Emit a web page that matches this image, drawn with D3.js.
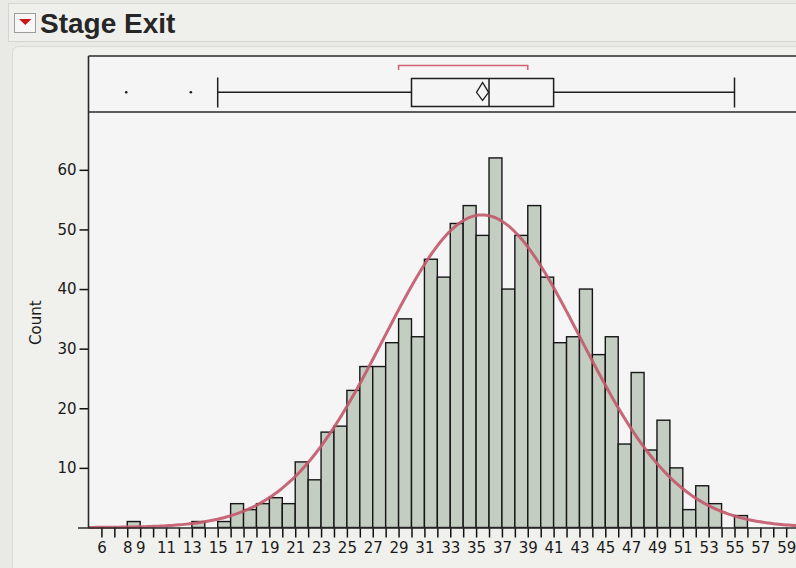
<!DOCTYPE html>
<html><head><meta charset="utf-8">
<script src="https://cdn.jsdelivr.net/npm/d3@7/dist/d3.min.js"></script>
<style>
html,body{margin:0;padding:0;background:#e9e9e5;overflow:hidden;}
svg{display:block;}
</style></head><body>
<svg id="chart" width="796" height="568"></svg>
<script>
// ---- data ----
const title = "Stage Exit";
const yLabel = "Count";
const binStarts = [5,6,7,8,9,10,11,12,13,14,15,16,17,18,19,20,21,22,23,24,25,26,27,28,29,30,31,32,33,34,35,36,37,38,39,40,41,42,43,44,45,46,47,48,49,50,51,52,53,54,55,56,57,58,59];
const counts    = [0,0,0,1,0,0,0,0,1,0,1,4,3,4,5,4,11,8,16,17,23,27,27,31,35,32,45,42,51,54,49,62,40,49,54,42,31,32,40,29,32,14,26,13,18,10,3,7,4,0,2,0,0,0,0];
const xTickValues = [6,7,8,9,10,11,12,13,14,15,16,17,18,19,20,21,22,23,24,25,26,27,28,29,30,31,32,33,34,35,36,37,38,39,40,41,42,43,44,45,46,47,48,49,50,51,52,53,54,55,56,57,58,59];
const xTickLabels = [6,8,9,11,13,15,17,19,21,23,25,27,29,31,33,35,37,39,41,43,45,47,49,51,53,55,57,59];
const yTickValues = [10,20,30,40,50,60];
// box plot summary
const quartiles = [30, 36, 41];          // Q1, median, Q3
const whiskers = [15, 55];
const outliers = [8, 13];
const meanCI = [35.03, 35.5, 35.97];     // lower, mean, upper
const shortestHalf = [29, 39];
// fitted normal
const fitMean = 35.47, fitSd = 7.6;

// ---- layout ----
const svg = d3.select('#chart');
const plotLeft = 88.5, plotTop = 56, boxBottom = 112, plotBottom = 527.5, plotRight = 799.1;
const x = d3.scaleLinear().domain([5, 60]).range([plotLeft, plotRight]);
const y = d3.scaleLinear().domain([0, 69.7]).range([plotBottom, boxBottom]);
const binW = 1;
const N = d3.sum(counts);

// header band
svg.append('rect').attr('x', 8.5).attr('y', 3.5).attr('width', 800).attr('height', 38)
  .attr('fill', '#efefeb').attr('stroke', '#d4d4d0');
// panel
svg.append('rect').attr('x', 12.5).attr('y', 46.5).attr('width', 800).attr('height', 540).attr('rx', 6)
  .attr('fill', '#f0f0ec').attr('stroke', '#d9d9d5');
// disclosure icon
svg.append('rect').attr('x', 14.5).attr('y', 13.5).attr('width', 21).attr('height', 19)
  .attr('fill', '#f7f7f7').attr('stroke', '#9c9c9c');
svg.append('path').attr('d', 'M19,19L31.5,19L25.25,25Z').attr('fill', '#c91616');
svg.append('text').attr('x', 40).attr('y', 33).text(title)
  .attr('font-family', '"Liberation Sans", Arial, sans-serif').attr('font-weight', 'bold')
  .attr('font-size', 28).attr('fill', '#262626');

// plot background
svg.append('rect').attr('x', plotLeft).attr('y', plotTop).attr('width', 720).attr('height', plotBottom - plotTop)
  .attr('fill', '#f5f5f5');

// bars
const bins = binStarts.map((s, i) => ({s, c: counts[i]})).filter(d => d.c > 0);
svg.append('g').selectAll('rect').data(bins).join('rect')
  .attr('x', d => x(d.s)).attr('width', d => x(d.s + binW) - x(d.s))
  .attr('y', d => y(d.c)).attr('height', d => y(0) - y(d.c))
  .attr('fill', '#c4cdc2').attr('stroke', '#161616').attr('stroke-width', 1.4);

// normal curve
const curveX = d3.range(5, 60.01, 0.2);
const dens = v => N * binW / (fitSd * Math.sqrt(2 * Math.PI)) * Math.exp(-((v - fitMean) ** 2) / (2 * fitSd * fitSd));
svg.append('path').datum(curveX)
  .attr('d', d3.line().x(v => x(v)).y(v => y(dens(v))))
  .attr('fill', 'none').attr('stroke', '#c35a6b').attr('stroke-width', 3).attr('stroke-opacity', 0.92);

// axes
const xAxis = svg.append('g').attr('transform', `translate(0,${plotBottom})`)
  .call(d3.axisBottom(x).tickValues(xTickValues).tickSize(10).tickSizeOuter(0).tickPadding(5)
    .tickFormat(d => xTickLabels.includes(d) ? d : ''));
xAxis.select('.domain').remove();
xAxis.selectAll('.tick line').attr('stroke', '#111').attr('stroke-width', 1.5);
xAxis.selectAll('.tick text').attr('font-family', '"DejaVu Sans", sans-serif').attr('font-size', 15).attr('fill', '#1a1a1a');

const yAxis = svg.append('g').attr('transform', `translate(${plotLeft},0)`)
  .call(d3.axisLeft(y).tickValues(yTickValues).tickSize(9).tickSizeOuter(0).tickPadding(3));
yAxis.select('.domain').remove();
yAxis.selectAll('.tick line').attr('stroke', '#111').attr('stroke-width', 1.5);
yAxis.selectAll('.tick text').attr('font-family', '"DejaVu Sans", sans-serif').attr('font-size', 15).attr('fill', '#1a1a1a');

svg.append('text').attr('transform', `translate(41,${(plotBottom + boxBottom) / 2 + 3}) rotate(-90)`)
  .attr('text-anchor', 'middle').text(yLabel)
  .attr('font-family', '"DejaVu Sans", sans-serif').attr('font-size', 15).attr('fill', '#1a1a1a');

// frame lines
const frame = svg.append('g').attr('stroke', '#2a2a2a').attr('stroke-width', 1.6);
frame.append('line').attr('x1', 78).attr('x2', 800).attr('y1', plotBottom + 0.5).attr('y2', plotBottom + 0.5);
frame.append('line').attr('x1', plotLeft).attr('x2', plotLeft).attr('y1', plotTop).attr('y2', plotBottom + 0.5);
frame.append('line').attr('x1', plotLeft).attr('x2', 800).attr('y1', plotTop).attr('y2', plotTop);
frame.append('line').attr('x1', plotLeft).attr('x2', 800).attr('y1', boxBottom).attr('y2', boxBottom);

// box plot
const bp = svg.append('g').attr('stroke', '#1e1e1e').attr('stroke-width', 1.5).attr('fill', 'none');
const cy = 92.3, bTop = 78.5, bBot = 106.5;
bp.append('line').attr('x1', x(whiskers[0])).attr('x2', x(quartiles[0])).attr('y1', cy).attr('y2', cy);
bp.append('line').attr('x1', x(quartiles[2])).attr('x2', x(whiskers[1])).attr('y1', cy).attr('y2', cy);
whiskers.forEach(w => bp.append('line').attr('x1', x(w)).attr('x2', x(w)).attr('y1', 77.5).attr('y2', 107.5));
bp.append('rect').attr('x', x(quartiles[0])).attr('y', bTop)
  .attr('width', x(quartiles[2]) - x(quartiles[0])).attr('height', bBot - bTop);
bp.append('line').attr('x1', x(quartiles[1])).attr('x2', x(quartiles[1])).attr('y1', bTop).attr('y2', bBot);
bp.append('path').attr('stroke-width', 1.3)
  .attr('d', `M${x(meanCI[0])},${cy}L${x(meanCI[1])},82.5L${x(meanCI[2])},${cy}L${x(meanCI[1])},100.5Z`);
svg.append('path').attr('fill', 'none').attr('stroke', '#d0626f').attr('stroke-width', 1.5)
  .attr('d', `M${x(shortestHalf[0])},70L${x(shortestHalf[0])},65.5L${x(shortestHalf[1])},65.5L${x(shortestHalf[1])},70`);
svg.append('g').selectAll('circle').data(outliers).join('circle')
  .attr('cx', d => x(d) - 1).attr('cy', cy).attr('r', 1.3).attr('fill', '#1e1e1e');
</script>
</body></html>
